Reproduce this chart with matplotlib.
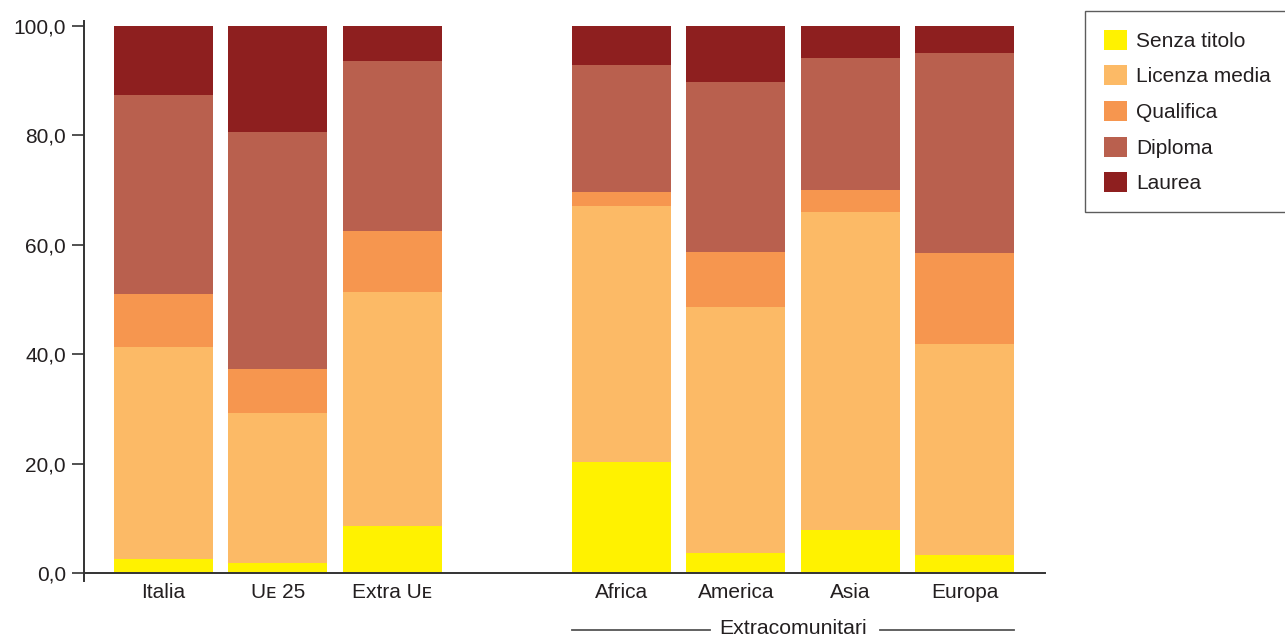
import matplotlib
matplotlib.use("Agg")
import matplotlib.pyplot as plt
import numpy as np

plt.rcParams['font.family'] = ['Liberation Sans', 'DejaVu Sans']

# data (percent, stacked bottom -> top)
groups = ["Italia", "U\u1d07 25", "Extra U\u1d07", "Africa", "America", "Asia", "Europa"]
positions = [0, 1, 2, 4, 5, 6, 7]
senza_titolo = [2.6, 1.8, 8.6, 20.3, 3.7, 7.9, 3.3]
licenza_media = [38.7, 27.5, 42.8, 46.8, 44.9, 58.1, 38.6]
qualifica = [9.7, 8.0, 11.1, 2.6, 10.1, 4.0, 16.6]
diploma = [36.4, 43.3, 31.1, 23.2, 31.1, 24.1, 36.6]
laurea = [12.6, 19.4, 6.4, 7.1, 10.2, 5.9, 4.9]

series = ["Senza titolo", "Licenza media", "Qualifica", "Diploma", "Laurea"]
colors = ["#fff200", "#fcba66", "#f6964f", "#b9604e", "#8e1f1f"]

fig = plt.figure(figsize=(12.85, 6.39), dpi=100)
ymin = -1.4
ppu = (573 - 26) / 100.0
ax_bottom_px = 573 - ymin * ppu
ax_h_px = ax_bottom_px - 26
ax = fig.add_axes([84/1285, 1 - ax_bottom_px/639, (1045-84)/1285, ax_h_px/639])

bottom = np.zeros(len(groups))
for name, vals, col in zip(series, [senza_titolo, licenza_media, qualifica, diploma, laurea], colors):
    ax.bar(positions, vals, bottom=bottom, width=0.865, color=col, label=name, linewidth=0)
    bottom += np.array(vals)

ax.set_xlim(-0.694, 7.699)
ax.set_ylim(ymin, 100)
ax.spines['bottom'].set_position(('data', 0))
ax.spines['top'].set_visible(False)
ax.spines['right'].set_visible(False)
for s in ['left', 'bottom']:
    ax.spines[s].set_color('#333333')
    ax.spines[s].set_linewidth(1.4)
ax.spines['left'].set_bounds(ymin, 101)

ax.set_yticks([0, 20, 40, 60, 80, 100])
ax.set_yticklabels(["0,0", "20,0", "40,0", "60,0", "80,0", "100,0"])
ax.tick_params(axis='y', length=9, width=1.2, color='#333333', labelsize=15, labelcolor='#231f20', pad=4)
ax.set_xticks(positions)
ax.set_xticklabels(groups)
ax.tick_params(axis='x', length=0, labelsize=15, labelcolor='#231f20', pad=7)

# group label under the extra-EU bars
trans = ax.get_xaxis_transform()
y_txt = -(628 - ax_bottom_px) / ax_h_px
y_line = -(630 - ax_bottom_px) / ax_h_px
ax.text(5.5, y_txt, "Extracomunitari", transform=trans, ha='center', va='center',
        fontsize=15.3, color='#231f20')
ax.plot([3.57, 4.77], [y_line, y_line], transform=trans, color='#555555', lw=1.3, clip_on=False)
ax.plot([6.26, 7.43], [y_line, y_line], transform=trans, color='#555555', lw=1.3, clip_on=False)

leg = fig.legend(loc='upper left', bbox_to_anchor=(1085/1285, 1-11/639), borderaxespad=0,
                 fontsize=15, handlelength=1.1, handleheight=1.1, handletextpad=0.45,
                 labelspacing=0.7, borderpad=0.9, fancybox=False, frameon=True)
leg.get_frame().set_edgecolor('#333333')
leg.get_frame().set_linewidth(1.0)
for t in leg.get_texts():
    t.set_color('#231f20')

fig.savefig("out.png", dpi=100)
